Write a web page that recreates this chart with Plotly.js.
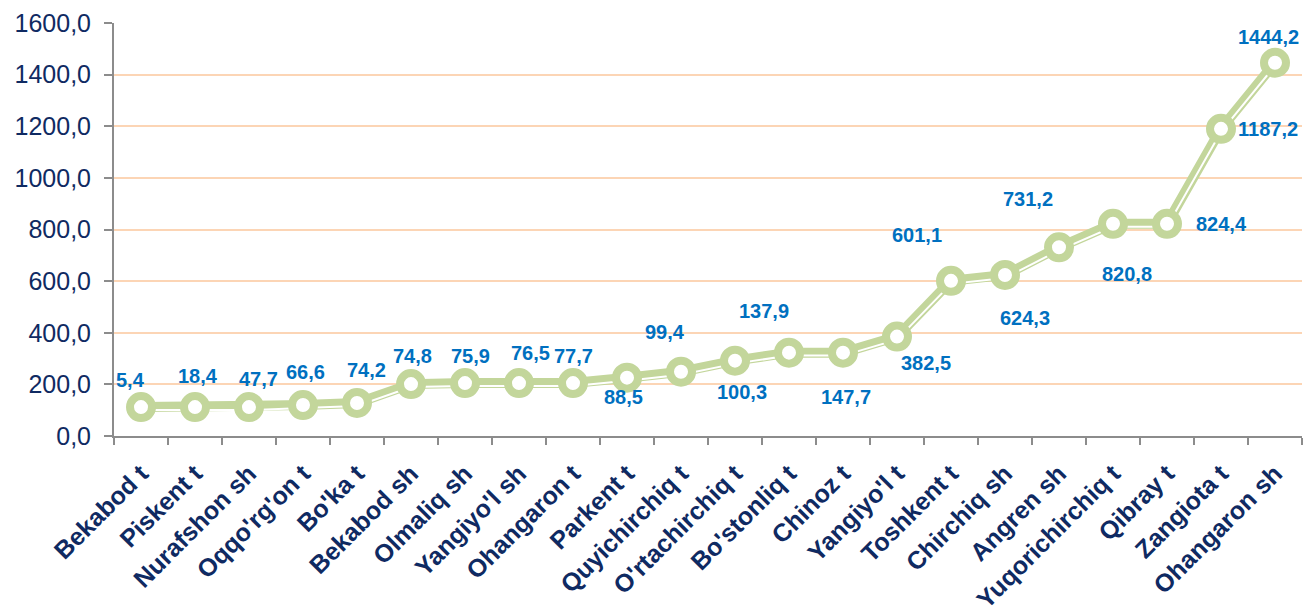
<!DOCTYPE html>
<html>
<head>
<meta charset="utf-8">
<script src="https://cdn.plot.ly/plotly-3.0.1.min.js"></script>
<style>
  html, body { margin: 0; padding: 0; background: #ffffff; }
  #chart { width: 1303px; height: 614px; }
</style>
</head>
<body>
<div id="chart"></div>
<script>
var districts = ["Bekabod t", "Piskent t", "Nurafshon sh", "Oqqo'rg'on t", "Bo'ka t", "Bekabod sh",
  "Olmaliq sh", "Yangiyo'l sh", "Ohangaron t", "Parkent t", "Quyichirchiq t", "O'rtachirchiq t",
  "Bo'stonliq t", "Chinoz t", "Yangiyo'l t", "Toshkent t", "Chirchiq sh", "Angren sh",
  "Yuqorichirchiq t", "Qibray t", "Zangiota t", "Ohangaron sh"];

// where the line sits on the chart
var plotted = [112, 112, 112, 120, 128, 201, 205, 205, 205, 226, 249, 292,
  323, 323, 385, 601, 624, 731, 822, 822, 1190, 1446];

// numbers printed next to each point
var labels = [5.4, 18.4, 47.7, 66.6, 74.2, 74.8, 75.9, 76.5, 77.7, 88.5, 99.4, 100.3,
  137.9, 147.7, 382.5, 601.1, 624.3, 731.2, 820.8, 824.4, 1187.2, 1444.2];

// label offsets from the point, px
var shiftX = [-11, 3, 9, 2, 9, 1, 5, 11, 0, -4, -16, 7, -25, 3, 29, -34, 20, -31, 14, 54, 47, -7];
var shiftY = [27, 31, 28, 33, 33, 28, 27, 30, 27, -19, 40, -31, 42, -44, -26, 46, -43, 48, -50, 0, 0, 26];

var green = '#c3d69b';
var navy = '#0f2a62';

var fmt = function (v) { return v.toFixed(1).replace('.', ','); };

var annotations = districts.map(function (d, i) {
  return {
    x: d, y: plotted[i], xref: 'x', yref: 'y',
    text: fmt(labels[i]), showarrow: false,
    xshift: shiftX[i], yshift: shiftY[i],
    font: {family: 'Liberation Sans, Arial, sans-serif', size: 20, color: '#0070c0', weight: 'bold'}
  };
});

var trace_line = {
  x: districts, y: plotted, type: 'scatter', mode: 'lines',
  line: {color: green, width: 10}, hoverinfo: 'skip', showlegend: false
};

var trace_inner = {
  x: districts, y: plotted, type: 'scatter', mode: 'lines', yaxis: 'y2',
  line: {color: '#ffffff', width: 2}, hoverinfo: 'skip', showlegend: false
};

var trace_points = {
  x: districts, y: plotted, type: 'scatter', mode: 'markers', yaxis: 'y3',
  marker: {size: 22, color: '#ffffff', line: {color: green, width: 8}},
  showlegend: false
};

var layout = {
  width: 1303, height: 614,
  margin: {l: 114, r: 1, t: 23, b: 178},
  paper_bgcolor: '#ffffff', plot_bgcolor: '#ffffff',
  separators: ',.',
  font: {family: 'Liberation Sans, Arial, sans-serif', color: navy},
  xaxis: {
    type: 'category', range: [-0.5, 21.5],
    tickangle: -45, tickson: 'boundaries',
    ticks: 'outside', ticklen: 7, tickcolor: '#8c8c8c', tickwidth: 2,
    showline: true, linecolor: '#8c8c8c', linewidth: 2,
    showgrid: false, automargin: false,
    ticklabelstandoff: 11,
    tickfont: {size: 25, color: navy, weight: 'bold'}
  },
  yaxis: {
    range: [0, 1600], dtick: 200, tickformat: '.1f',
    ticks: 'outside', ticklen: 8, tickcolor: '#8c8c8c', tickwidth: 2,
    showline: true, linecolor: '#8c8c8c', linewidth: 2,
    gridcolor: '#fcd5b5', gridwidth: 2, zeroline: false,
    ticklabelstandoff: 8, automargin: false,
    tickfont: {size: 25, color: navy}
  },
  yaxis2: {
    overlaying: 'y', range: [11.6, 1611.6], visible: false, showgrid: false
  },
  yaxis3: {
    overlaying: 'y', range: [0, 1600], visible: false, showgrid: false
  },
  annotations: annotations
};

Plotly.newPlot('chart', [trace_line, trace_inner, trace_points], layout, {displayModeBar: false, staticPlot: true});
</script>
</body>
</html>
